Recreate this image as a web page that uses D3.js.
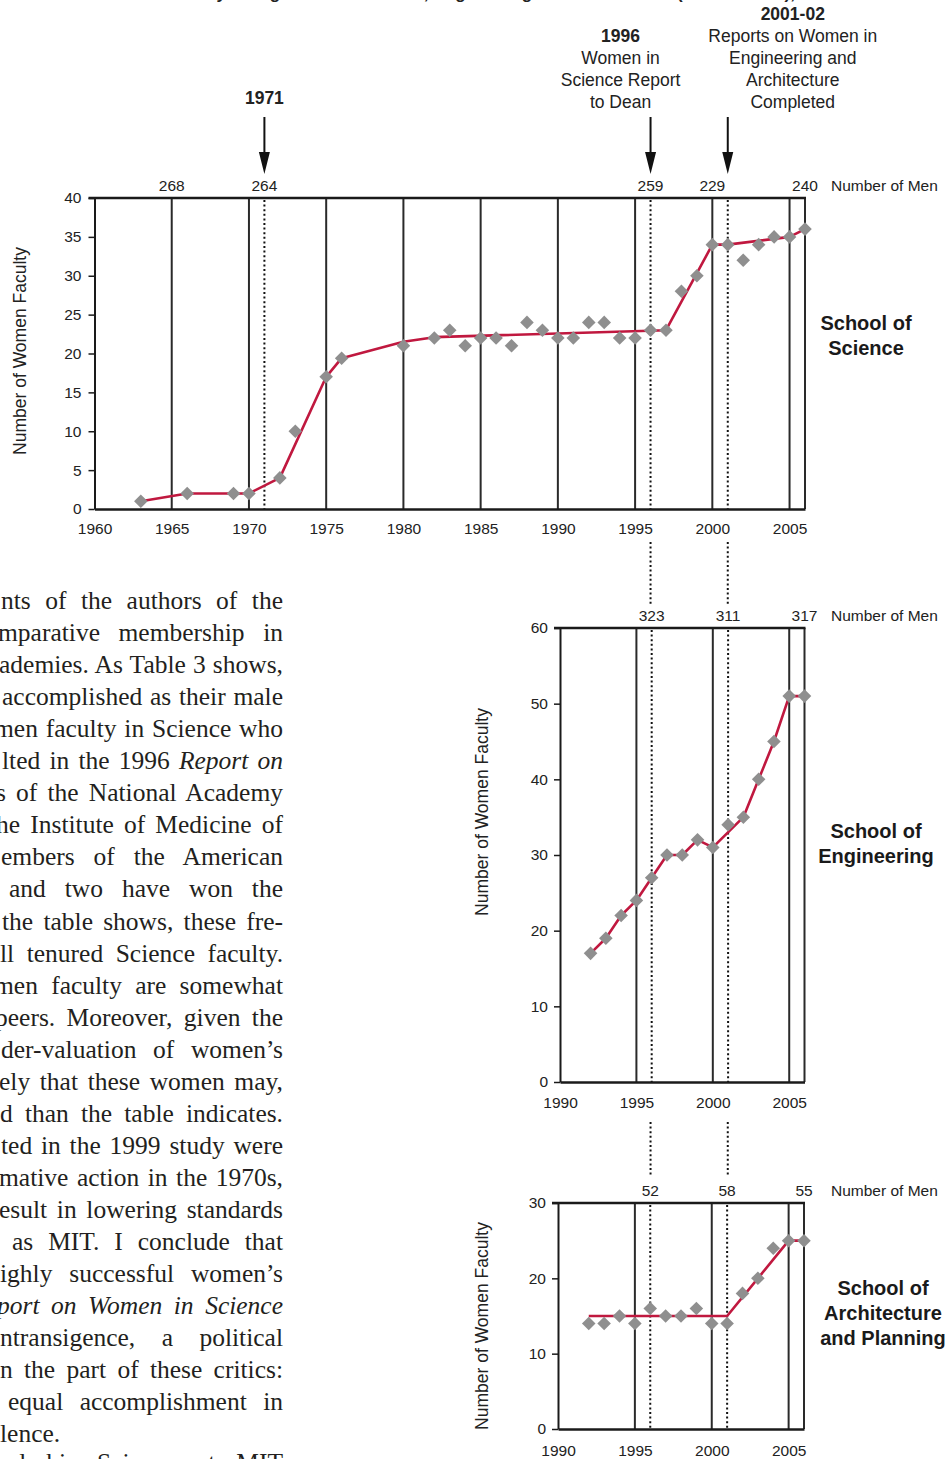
<!DOCTYPE html>
<html><head><meta charset="utf-8">
<script src="https://cdn.jsdelivr.net/npm/d3@7"></script>
<style>body{margin:0;background:#fff}svg{display:block}</style>
</head><body>
<svg id="c" width="950" height="1459"></svg>
<script>
// ---------------- DATA ----------------
const scienceYears = [1963,1966,1969,1970,1972,1973,1975,1976,1980,1982,1983,1984,1985,1986,1987,1988,1989,1990,1991,1992,1993,1994,1995,1996,1997,1998,1999,2000,2001,2002,2003,2004,2005,2006];
const scienceWomen = [1,2,2,2,4,10,17,19.4,21,22,23,21,22,22,21,24,23,22,22,24,24,22,22,23,23,28,30,34,34,32,34,35,35,36];
const scienceTrendYears = [1963,1966,1970,1972,1975,1976,1980,1982,1997,2000,2001,2005,2006];
const scienceTrendValues = [1,2,2,4,17,19.4,21.5,22.1,23,34,34,35,36];
const scienceMenYears = [1965,1971,1996,2000,2006];
const scienceMenCounts = [268,264,259,229,240];

const engYears = [1992,1993,1994,1995,1996,1997,1998,1999,2000,2001,2002,2003,2004,2005,2006];
const engWomen = [17,19,22,24,27,30,30,32,31,34,35,40,45,51,51];
const engTrendYears = [1992,1993,1994,1995,1996,1997,1998,1999,2000,2002,2003,2004,2005,2006];
const engTrendValues = [17,19,22,24,27,30,30,32,31,35,40,45,51,51];
const engMenYears = [1996,2001,2006];
const engMenCounts = [323,311,317];

const archYears = [1992,1993,1994,1995,1996,1997,1998,1999,2000,2001,2002,2003,2004,2005,2006];
const archWomen = [14,14,15,14,16,15,15,16,14,14,18,20,24,25,25];
const archTrendYears = [1992,2001,2005,2006];
const archTrendValues = [15,15,25,25];
const archMenYears = [1996,2001,2006];
const archMenCounts = [52,58,55];

const scienceXTicks = [1960,1965,1970,1975,1980,1985,1990,1995,2000,2005];
const scienceYTicks = [0,5,10,15,20,25,30,35,40];
const scienceGrid = [1965,1970,1975,1980,1985,1990,1995,2000,2005,2006];
const laterXTicks = [1990,1995,2000,2005];
const laterGrid = [1995,2000,2005,2006];
const engYTicks = [0,10,20,30,40,50,60];
const archYTicks = [0,10,20,30];
const eventYears = [1971,1996,2001];

const annotations = [
  {year:1971, lines:["1971"]},
  {year:1996, lines:["1996","Women in","Science Report","to Dean"]},
  {year:2001, lines:["2001-02","Reports on Women in","Engineering and","Architecture","Completed"]}
];

const titleText = "Women Faculty Hiring at MIT in Science, Engineering and Architecture (1963 to 2006),";

const bodyLines = [
  "nts of the authors of the",
  "mparative membership in",
  "ademies. As Table 3 shows,",
  "accomplished as their male",
  "men faculty in Science who",
  "lted in the 1996 _Report on_",
  "s of the National Academy",
  "he Institute of Medicine of",
  "embers of the American",
  "and two have won the",
  "the table shows, these fre-",
  "ll tenured Science faculty.",
  "men faculty are somewhat",
  "peers. Moreover, given the",
  "der-valuation of women\u2019s",
  "ely that these women may,",
  "d than the table indicates.",
  "ted in the 1999 study were",
  "mative action in the 1970s,",
  "esult in lowering standards",
  "as MIT. I conclude that",
  "ighly successful women\u2019s",
  "_port on Women in Science_",
  "ntransigence, a political",
  "n the part of these critics:",
  "equal accomplishment in",
  "lence.",
  "nd his Science at MIT"
];
const bodyStarts = [1,-2,-1,2,-6,2,-4,-4,1,9,2,0,-6,-5,1,-1,0,1,-1,-1,12,0,-3,0,0,8,0,0];
const bodyJustified = bodyLines.map((d,i)=> i!==26);

// ---------------- DRAW ----------------
const svg = d3.select("#c");
const SANS = "'Liberation Sans', Arial, Helvetica, sans-serif";
const SERIF = "'Liberation Serif', 'Times New Roman', serif";
const INK = "#222";

// top (cut-off) title
svg.append("text").attr("x",100).attr("y",-1).attr("font-family",SANS).attr("font-weight","bold")
  .attr("font-size",17).attr("fill",INK).attr("textLength",695).attr("lengthAdjust","spacing").text(titleText);

function panel(p){
  const g = svg.append("g");
  const x = d3.scaleLinear().domain(p.xDomain).range(p.xRange);
  const y = d3.scaleLinear().domain(p.yDomain).range(p.yRange);
  const yb = p.yRange[0], yt = p.yRange[1];
  const xr = x(p.xDomain[1]);

  g.selectAll("line.grid").data(p.grid).join("line").attr("class","grid")
    .attr("x1",d=>x(d)).attr("x2",d=>x(d)).attr("y1",yt).attr("y2",yb)
    .attr("stroke","#2a2a2a").attr("stroke-width",2);

  g.selectAll("line.evt").data(p.dotted).join("line").attr("class","evt")
    .attr("x1",d=>x(d)).attr("x2",d=>x(d)).attr("y1",yt+2).attr("y2",yb)
    .attr("stroke","#111").attr("stroke-width",2).attr("stroke-dasharray","2,2.6");

  g.append("line").attr("x1",p.xRange[0]-6).attr("x2",xr+1).attr("y1",yt).attr("y2",yt)
    .attr("stroke","#1a1a1a").attr("stroke-width",2.5);

  const ya = g.append("g").attr("transform",`translate(${p.xRange[0]},0)`)
    .call(d3.axisLeft(y).tickValues(p.yTicks).tickSize(6).tickPadding(p.yPad).tickSizeOuter(0));
  ya.select(".domain").attr("stroke","#1a1a1a").attr("stroke-width",2);
  ya.selectAll(".tick line").attr("stroke","#1a1a1a").attr("stroke-width",1.5);
  ya.selectAll(".tick text").attr("font-family",SANS).attr("font-size",15.5).attr("fill",INK);

  const xa = g.append("g").attr("transform",`translate(0,${yb})`)
    .call(d3.axisBottom(x).tickValues(p.xTicks).tickSize(0).tickPadding(p.xPad).tickFormat(d3.format("d")).tickSizeOuter(0));
  xa.select(".domain").attr("stroke","#1a1a1a").attr("stroke-width",2.5);
  xa.selectAll(".tick text").attr("font-family",SANS).attr("font-size",15.5).attr("fill",INK);

  const line = d3.line().x(d=>x(d[0])).y(d=>y(d[1]));
  g.append("path").datum(d3.zip(p.trendYears,p.trendValues)).attr("d",line)
    .attr("fill","none").attr("stroke","#c0183f").attr("stroke-width",2.6).attr("stroke-linejoin","round");

  const sym = d3.symbol(d3.symbolSquare, 92)();
  g.selectAll("path.pt").data(d3.zip(p.years,p.values)).join("path").attr("class","pt")
    .attr("d",sym).attr("transform",d=>`translate(${x(d[0])},${y(d[1])}) rotate(45)`)
    .attr("fill","#8f8f8f");

  g.selectAll("text.men").data(d3.zip(p.menYears,p.menCounts)).join("text").attr("class","men")
    .attr("x",d=>x(d[0])).attr("y",yt-7).attr("text-anchor","middle")
    .attr("font-family",SANS).attr("font-size",15.5).attr("fill",INK).text(d=>d[1]);
  g.append("text").attr("x",831).attr("y",yt-7).attr("font-family",SANS).attr("font-size",15.5)
    .attr("fill",INK).text("Number of Men");

  g.append("text").attr("transform",`translate(${p.ylab[0]},${p.ylab[1]}) rotate(-90)`)
    .attr("text-anchor","middle").attr("font-family",SANS).attr("font-size",17.5).attr("fill",INK)
    .text("Number of Women Faculty");

  g.selectAll("text.ttl").data(p.title).join("text").attr("class","ttl")
    .attr("x",p.titlePos[0]).attr("y",(d,i)=>p.titlePos[1]+i*25).attr("text-anchor","middle")
    .attr("font-family",SANS).attr("font-weight","bold").attr("font-size",20).attr("fill","#1a1a1a").text(d=>d);
  return {x,y};
}

const sci = panel({
  xDomain:[1960,2006], xRange:[94.5,805], yDomain:[0,40], yRange:[509,198],
  grid:scienceGrid, dotted:eventYears, xTicks:scienceXTicks, yTicks:scienceYTicks, yPad:7, xPad:14,
  years:scienceYears, values:scienceWomen, trendYears:scienceTrendYears, trendValues:scienceTrendValues,
  menYears:scienceMenYears, menCounts:scienceMenCounts, ylab:[26,351],
  title:["School of","Science"], titlePos:[866,330]
});
const eng = panel({
  xDomain:[1990,2006], xRange:[560,804.5], yDomain:[0,60], yRange:[1082,628],
  grid:laterGrid, dotted:eventYears.slice(1), xTicks:laterXTicks, yTicks:engYTicks, yPad:6, xPad:15,
  years:engYears, values:engWomen, trendYears:engTrendYears, trendValues:engTrendValues,
  menYears:engMenYears, menCounts:engMenCounts, ylab:[488,812],
  title:["School of","Engineering"], titlePos:[876,838]
});
const arch = panel({
  xDomain:[1990,2006], xRange:[558,804], yDomain:[0,30], yRange:[1429,1203],
  grid:laterGrid, dotted:eventYears.slice(1), xTicks:laterXTicks, yTicks:archYTicks, yPad:6, xPad:16,
  years:archYears, values:archWomen, trendYears:archTrendYears, trendValues:archTrendValues,
  menYears:archMenYears, menCounts:archMenCounts, ylab:[488,1326],
  title:["School of","Architecture","and Planning"], titlePos:[883,1295]
});

// dotted connectors between panels
const connectors = [[542,604],[1122,1177]];
connectors.forEach(c=>{
  svg.selectAll(null).data(eventYears.slice(1)).join("line")
    .attr("x1",d=>sci.x(d)).attr("x2",d=>sci.x(d)).attr("y1",c[0]).attr("y2",c[1])
    .attr("stroke","#111").attr("stroke-width",2).attr("stroke-dasharray","2,2.6");
});

// annotations with arrows
const ann = svg.append("g");
annotations.forEach(a=>{
  const ax = sci.x(a.year);
  const n = a.lines.length;
  const cx = a.year===1971 ? ax : (a.year===1996 ? ax-30 : ax+65);
  const baseY = 108 - (n-1)*22 + (a.year===1971?-4:0);
  a.lines.forEach((t,i)=>{
    ann.append("text").attr("x",cx).attr("y",baseY+i*22).attr("text-anchor","middle")
      .attr("font-family",SANS).attr("font-size",17.5).attr("fill",INK)
      .attr("font-weight",i===0?"bold":"normal").text(t);
  });
  ann.append("line").attr("x1",ax).attr("x2",ax).attr("y1",117).attr("y2",156)
    .attr("stroke","#111").attr("stroke-width",2);
  ann.append("path").attr("d",`M${ax-5.5},152 L${ax+5.5},152 L${ax},174 Z`).attr("fill","#111");
});

// body text at left
const body = svg.append("g");
bodyLines.forEach((ln,i)=>{
  const yy = i===27 ? 1471 : 609+i*32.05;
  const t = body.append("text").attr("x",bodyStarts[i]).attr("y",yy)
    .attr("font-family",SERIF).attr("font-size",25.5).attr("fill","#231f20");
  ln.split("_").forEach((seg,j)=>{
    if(seg.length) t.append("tspan").attr("font-style",j%2?"italic":"normal").text(seg);
  });
  if(bodyJustified[i]){
    const target = 283 - bodyStarts[i];
    const nat = t.node().getComputedTextLength();
    const spaces = (ln.match(/ /g)||[]).length;
    if(spaces>0) t.attr("word-spacing",(target-nat)/spaces);
  }
});
</script>
</body></html>
